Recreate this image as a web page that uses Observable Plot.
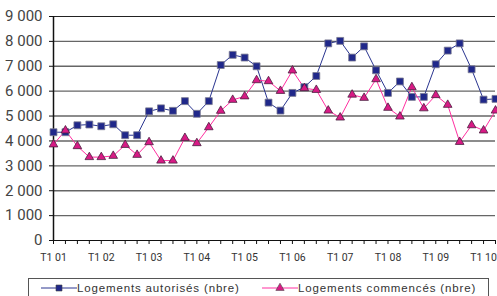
<!DOCTYPE html>
<html>
<head>
<meta charset="utf-8">
<script src="https://cdn.jsdelivr.net/npm/d3@7"></script>
<script src="https://cdn.jsdelivr.net/npm/@observablehq/plot@0.6"></script>
<style>
  html, body { margin: 0; padding: 0; background: #fff; }
  #wrap { position: relative; width: 497px; height: 296px; overflow: hidden; }
  #legend { position: absolute; left: 28px; top: 278px; width: 461px; height: 30px;
    border: 1px solid #555; box-sizing: border-box; font-family: "Liberation Sans", Arial, sans-serif;
    font-size: 11.5px; color: #333; letter-spacing: 0.85px; }
  .item { position: absolute; top: 2px; display: flex; align-items: center; white-space: nowrap; }
  .item svg { display: block; }
</style>
</head>
<body>
<div id="wrap">
  <div id="chart"></div>
  <div id="legend"></div>
</div>
<script>
const quarters = [
  "T1 01","T2 01","T3 01","T4 01","T1 02","T2 02","T3 02","T4 02",
  "T1 03","T2 03","T3 03","T4 03","T1 04","T2 04","T3 04","T4 04",
  "T1 05","T2 05","T3 05","T4 05","T1 06","T2 06","T3 06","T4 06",
  "T1 07","T2 07","T3 07","T4 07","T1 08","T2 08","T3 08","T4 08",
  "T1 09","T2 09","T3 09","T4 09","T1 10","T2 10"
];
const autorises = [
  4350, 4350, 4630, 4660, 4590, 4670, 4230, 4230,
  5190, 5310, 5210, 5600, 5090, 5600, 7050, 7460,
  7350, 7000, 5540, 5220, 5930, 6160, 6610, 7920,
  8020, 7350, 7800, 6840, 5930, 6390, 5770, 5770,
  7080, 7630, 7920, 6880, 5660, 5690
];
const commences = [
  3860, 4420, 3790, 3350, 3350, 3400, 3840, 3440,
  3950, 3210, 3210, 4120, 3910, 4550, 5210, 5650,
  5790, 6440, 6400, 6010, 6830, 6120, 6050, 5220,
  4940, 5860, 5730, 6480, 5330, 4980, 6160, 5310,
  5840, 5450, 3960, 4630, 4420, 5220
];
const seriesNames = ["Logements autorisés (nbre)", "Logements commencés (nbre)"];
const yTicks = [0, 1000, 2000, 3000, 4000, 5000, 6000, 7000, 8000, 9000];

const blue = "#2a3590", blueFill = "#20288a";
const pink = "#ff2fa0", pinkFill = "#d81a85";

const dA = quarters.map((q, i) => ({q, v: autorises[i]}));
const dC = quarters.map((q, i) => ({q, v: commences[i]}));
const fmt = d => d === 0 ? "0" : d3.format(",")(d).replace(/,/g, " ");

const chart = Plot.plot({
  width: 497,
  height: 276,
  marginLeft: 53,
  marginRight: 2,
  marginTop: 16,
  marginBottom: 36,
  style: {fontFamily: "Roboto, 'Liberation Sans', sans-serif", background: "#fff"},
  x: {type: "point", domain: quarters, padding: 0},
  y: {domain: [0, 9000]},
  marks: [
    Plot.ruleY(yTicks.filter(d => d > 0 && d < 9000), {stroke: "#666", strokeWidth: 1.4}),
    Plot.ruleY([9000], {stroke: "#222", strokeWidth: 1.2}),
    Plot.ruleY([0], {stroke: "#111", strokeWidth: 1.2}),
    Plot.ruleX([quarters[0]], {y1: 0, y2: 9000, stroke: "#111", strokeWidth: 1.5}),
    Plot.axisY({ticks: yTicks, tickFormat: fmt, tickSize: 4, tickPadding: 7, fontSize: 15, fill: "#444", stroke: "#111", label: null}),
    Plot.axisX({ticks: quarters, tickFormat: d => d.startsWith("T1") ? d : "", tickSize: 4, tickPadding: 9, fontSize: 10.5, fill: "#333", stroke: "#111", label: null}),
    Plot.line(dA, {x: "q", y: "v", stroke: blue, strokeWidth: 1}),
    Plot.line(dC, {x: "q", y: "v", stroke: pink, strokeWidth: 1}),
    Plot.dot(dA, {x: "q", y: "v", symbol: "square", r: 3.9, fill: blueFill, stroke: "#7a7a90", strokeWidth: 0.8}),
    Plot.dot(dC, {x: "q", y: "v", symbol: "triangle", r: 3.2, fill: pinkFill, stroke: "#4a2040", strokeWidth: 0.8})
  ]
});
document.getElementById("chart").appendChild(chart);

const legend = document.getElementById("legend");
const items = [
  {name: seriesNames[0], left: 12, stroke: blue, fill: blueFill, sym: "square"},
  {name: seriesNames[1], left: 233, stroke: pink, fill: pinkFill, sym: "triangle"}
];
for (const it of items) {
  const div = document.createElement("div");
  div.className = "item";
  div.style.left = it.left + "px";
  const ns = "http://www.w3.org/2000/svg";
  const svg = document.createElementNS(ns, "svg");
  svg.setAttribute("width", 36); svg.setAttribute("height", 14);
  const line = document.createElementNS(ns, "line");
  line.setAttribute("x1", 0); line.setAttribute("x2", 36);
  line.setAttribute("y1", 7); line.setAttribute("y2", 7);
  line.setAttribute("stroke", it.stroke); line.setAttribute("stroke-width", 1);
  svg.appendChild(line);
  const p = document.createElementNS(ns, "path");
  p.setAttribute("transform", "translate(18,7)");
  p.setAttribute("d", d3.symbol(it.sym === "square" ? d3.symbolSquare : d3.symbolTriangle, it.sym === "square" ? 36 : 30)());
  p.setAttribute("fill", it.fill); p.setAttribute("stroke", "#444"); p.setAttribute("stroke-width", 0.6);
  svg.appendChild(p);
  div.appendChild(svg);
  const span = document.createElement("span");
  span.textContent = it.name;
  div.appendChild(span);
  legend.appendChild(div);
}
</script>
</body>
</html>
